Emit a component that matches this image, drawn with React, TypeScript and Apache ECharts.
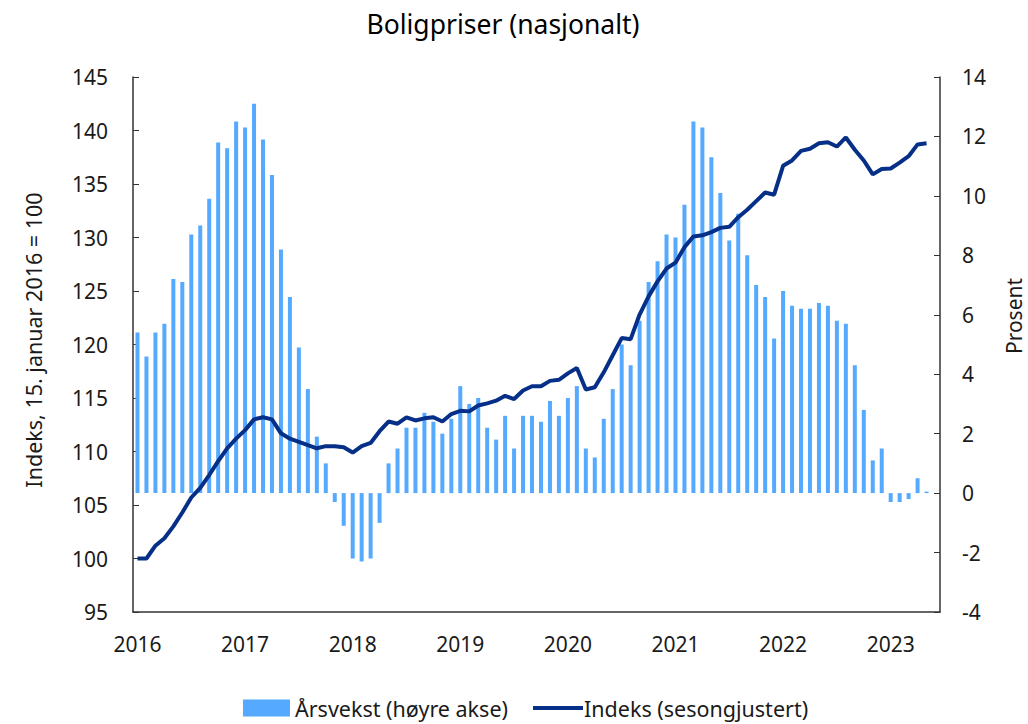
import React, { useEffect, useRef } from "react";
import * as echarts from "echarts";

const startYear = 2016;
const monthCount = 90; // Jan 2016 .. Jun 2023 (axis slots)

const months: string[] = [];
for (let i = 0; i < monthCount; i++) {
  const y = startYear + Math.floor(i / 12);
  const m = (i % 12) + 1;
  months.push(`${y}-${m < 10 ? "0" + m : m}`);
}

// Årsvekst (høyre akse), prosent
const arsvekst = [
  5.4, 4.6, 5.4, 5.7, 7.2, 7.1, 8.7, 9.0, 9.9, 11.8, 11.6, 12.5,
  12.3, 13.1, 11.9, 10.7, 8.2, 6.6, 4.9, 3.5, 1.9, 1.0, -0.3, -1.1,
  -2.2, -2.3, -2.2, -1.0, 1.0, 1.5, 2.2, 2.2, 2.7, 2.4, 2.0, 2.5,
  3.6, 3.0, 3.2, 2.2, 1.8, 2.6, 1.5, 2.6, 2.6, 2.4, 3.1, 2.6,
  3.2, 3.6, 1.5, 1.2, 2.5, 3.5, 5.0, 4.3, 5.8, 7.1, 7.8, 8.7,
  8.6, 9.7, 12.5, 12.3, 11.3, 10.1, 8.5, 9.4, 8.0, 7.0, 6.6, 5.2,
  6.8, 6.3, 6.2, 6.2, 6.4, 6.3, 5.8, 5.7, 4.3, 2.8, 1.1, 1.5,
  -0.3, -0.3, -0.2, 0.5, 0.05,
];

// Indeks (sesongjustert), 15. januar 2016 = 100
const indeks = [
  100.0, 100.0, 101.2, 101.9, 103.0, 104.3, 105.7, 106.6, 107.8, 109.1, 110.3, 111.2,
  112.0, 113.0, 113.2, 113.0, 111.7, 111.2, 110.9, 110.6, 110.3, 110.5, 110.5, 110.4,
  109.9, 110.5, 110.8, 111.9, 112.8, 112.6, 113.2, 112.9, 113.1, 113.2, 112.8, 113.5,
  113.8, 113.75, 114.3, 114.5, 114.75, 115.2, 114.9, 115.7, 116.1, 116.1, 116.6, 116.7,
  117.3, 117.8, 115.8, 116.0, 117.4, 119.0, 120.6, 120.5, 122.8, 124.5, 125.9, 127.1,
  127.65, 129.1, 130.1, 130.2, 130.5, 130.9, 131.0, 131.9, 132.6, 133.4, 134.2, 134.0,
  136.7, 137.2, 138.1, 138.3, 138.8, 138.9, 138.5, 139.35, 138.2, 137.2, 135.9, 136.4,
  136.45, 137.0, 137.6, 138.7, 138.8,
];

const titleText = "Boligpriser (nasjonalt)";
const barName = "Årsvekst (høyre akse)";
const lineName = "Indeks (sesongjustert)";
const leftAxisName = "Indeks, 15. januar 2016 = 100";
const rightAxisName = "Prosent";

const FONT = "'Noto Sans', 'Open Sans', sans-serif";
const TEXT = "#1a1a1a";
const AXIS = "#333333";
const BAR = "#55a9ff";
const LINE = "#062f88";
const FS = 21;

export default function App() {
  const ref = useRef<HTMLDivElement>(null);

  useEffect(() => {
    document.body.style.margin = "0";
    if (!ref.current) return;
    const chart = echarts.init(ref.current, undefined, { renderer: "svg" });
    const isYearStart = (i: number) => i % 12 === 0;
    chart.setOption({
      animation: false,
      backgroundColor: "#ffffff",
      textStyle: { fontFamily: FONT },
      title: {
        text: titleText,
        left: 498,
        textAlign: "center",
        top: 5,
        textStyle: { fontFamily: FONT, fontSize: 26.5, fontWeight: "normal", color: "#000" },
      },
      graphic: [
        {
          type: "text",
          x: 33,
          y: 340,
          rotation: Math.PI / 2,
          style: {
            text: leftAxisName,
            fontFamily: FONT,
            fontSize: 21.5,
            fill: TEXT,
            textAlign: "center",
            textVerticalAlign: "middle",
          },
        },
        {
          type: "text",
          x: 1014,
          y: 316,
          rotation: Math.PI / 2,
          style: {
            text: rightAxisName,
            fontFamily: FONT,
            fontSize: 21,
            fill: TEXT,
            textAlign: "center",
            textVerticalAlign: "middle",
          },
        },
      ],
      legend: [
        {
          left: 243,
          top: 697,
          padding: 0,
          itemWidth: 47,
          itemHeight: 17,
          textStyle: { fontFamily: FONT, fontSize: 21.5, color: TEXT },
          data: [{ name: barName, icon: "rect" }],
        },
        {
          left: 533,
          top: 697,
          padding: 0,
          itemWidth: 50,
          itemHeight: 4,
          textStyle: { fontFamily: FONT, fontSize: 21.5, color: TEXT, padding: [0, 0, 0, -4] },
          data: [{ name: lineName, icon: "rect", itemStyle: { color: LINE } }],
        },
      ],
      grid: {
        left: 133,
        right: 88,
        top: 77,
        bottom: 112,
        containLabel: false,
        outerBoundsMode: "none",
      },
      xAxis: {
        type: "category",
        data: months,
        boundaryGap: true,
        axisLine: { onZero: false, lineStyle: { color: AXIS, width: 1.5 } },
        axisTick: { inside: true, length: 7, interval: (i: number) => isYearStart(i), lineStyle: { color: AXIS } },
        axisLabel: {
          interval: (i: number) => isYearStart(i),
          formatter: (v: string) => v.slice(0, 4),
          fontFamily: FONT,
          fontSize: FS,
          color: TEXT,
          margin: 21,
        },
        splitLine: { show: false },
      },
      yAxis: [
        {
          type: "value",
          min: 95,
          max: 145,
          interval: 5,
          position: "left",
          axisLine: { show: true, lineStyle: { color: AXIS, width: 1.5 } },
          axisTick: { show: true, inside: true, length: 6, lineStyle: { color: AXIS } },
          axisLabel: { fontFamily: FONT, fontSize: FS, color: TEXT, margin: 25 },
          splitLine: { show: false },
        },
        {
          type: "value",
          min: -4,
          max: 14,
          interval: 2,
          position: "right",
          axisLine: { show: true, lineStyle: { color: AXIS, width: 1.5 } },
          axisTick: { show: true, inside: true, length: 6, lineStyle: { color: AXIS } },
          axisLabel: { fontFamily: FONT, fontSize: FS, color: TEXT, margin: 22 },
          splitLine: { show: false },
        },
      ],
      series: [
        {
          name: barName,
          type: "bar",
          yAxisIndex: 1,
          data: arsvekst,
          barWidth: 4,
          itemStyle: { color: BAR },
          z: 2,
        },
        {
          name: lineName,
          type: "line",
          yAxisIndex: 0,
          data: indeks,
          symbol: "none",
          showSymbol: false,
          lineStyle: { color: LINE, width: 4 },
          itemStyle: { color: LINE },
          z: 3,
        },
      ],
    });
    return () => chart.dispose();
  }, []);

  return (
    <div
      ref={ref}
      style={{ position: "fixed", left: 0, top: 0, width: 1028, height: 724, background: "#fff" }}
    />
  );
}
